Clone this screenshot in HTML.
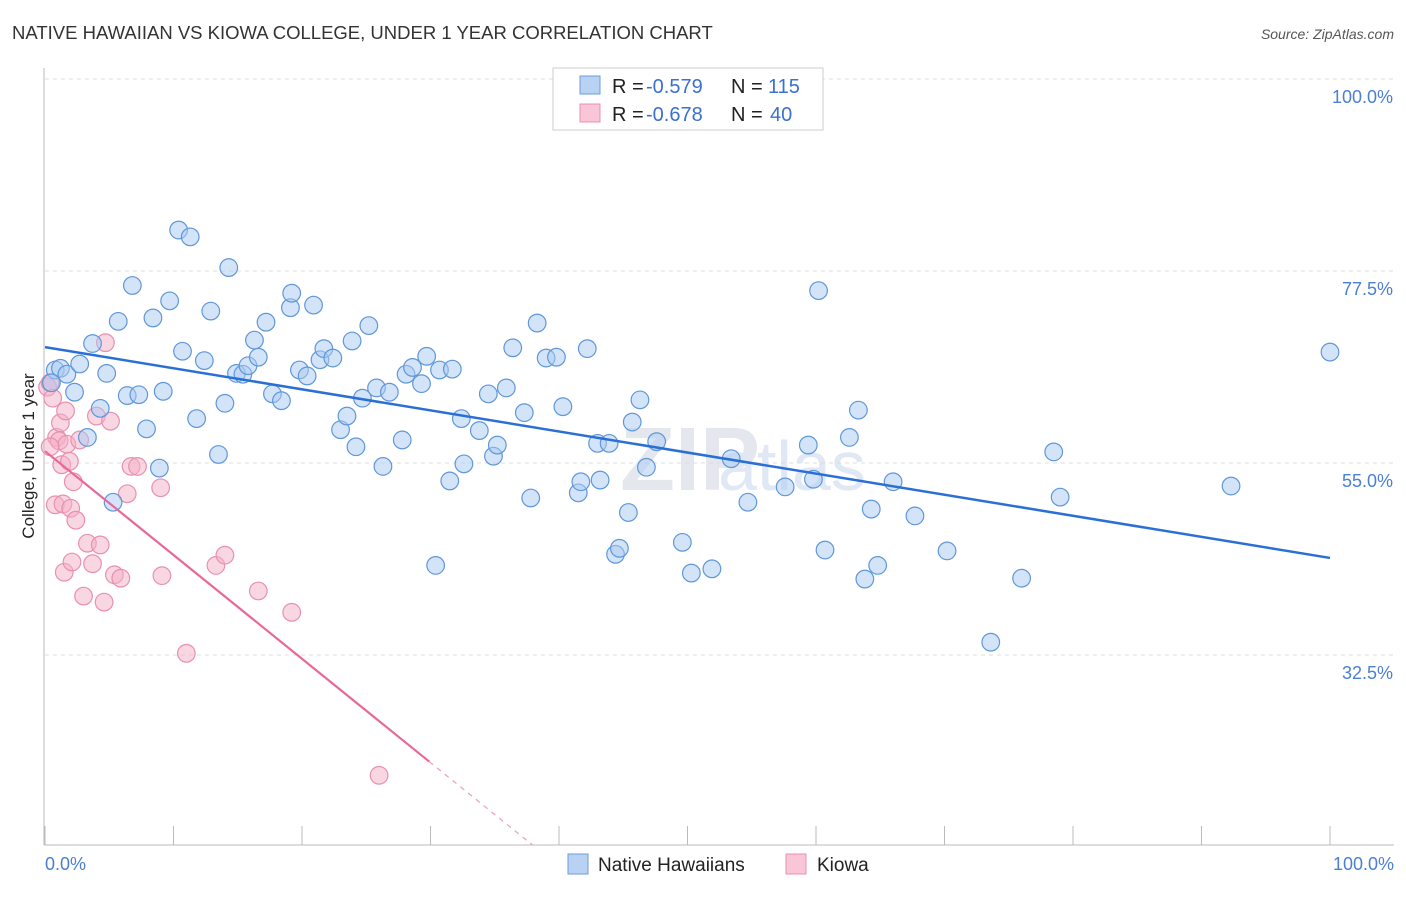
<!DOCTYPE html>
<html><head><meta charset="utf-8"><style>
body{margin:0;background:#fff;font-family:"Liberation Sans",sans-serif;}
svg text{font-family:"Liberation Sans",sans-serif;}
</style></head><body>
<svg id="chart" width="1406" height="892">
<text x="12" y="39" font-size="18.5" fill="#333">NATIVE HAWAIIAN VS KIOWA COLLEGE, UNDER 1 YEAR CORRELATION CHART</text>
<text x="1394" y="39" font-size="14" fill="#555" text-anchor="end" font-style="italic">Source: ZipAtlas.com</text>
<text x="620" y="490" font-size="90" fill="#e4e8ee" font-family="Liberation Serif" font-weight="bold">ZIP</text>
<text x="718" y="490" font-size="70" fill="#dfe8f4">atlas</text>
<g id="grid"></g>
<g id="axes"></g>
<g id="marks"></g>
<g id="lines"></g>
<text transform="translate(34,456) rotate(-90)" font-size="17" fill="#222" text-anchor="middle">College, Under 1 year</text>
<text x="45" y="870" font-size="18" fill="#4a7fd4">0.0%</text>
<text x="1394" y="870" font-size="18" fill="#4a7fd4" text-anchor="end">100.0%</text>
<g>
<rect x="553" y="68" width="270" height="62" fill="#fff" stroke="#ccc"/>
<rect x="580" y="76" width="20" height="18" fill="#b9d2f3" stroke="#6a9fd8"/>
<rect x="580" y="104" width="20" height="18" fill="#f8c6d6" stroke="#e890b0"/>
<text x="612" y="93" font-size="20" fill="#222">R =</text>
<text x="646" y="93" font-size="20" fill="#3a70d0">-0.579</text>
<text x="731" y="93" font-size="20" fill="#222">N =</text>
<text x="768" y="93" font-size="20" fill="#3a70d0">115</text>
<text x="612" y="121" font-size="20" fill="#222">R =</text>
<text x="646" y="121" font-size="20" fill="#3a70d0">-0.678</text>
<text x="731" y="121" font-size="20" fill="#222">N =</text>
<text x="770" y="121" font-size="20" fill="#3a70d0">40</text>
</g>
<g>
<rect x="568" y="854" width="20" height="20" fill="#b9d2f3" stroke="#6a9fd8"/>
<text x="598" y="871" font-size="19" fill="#222">Native Hawaiians</text>
<rect x="786" y="854" width="20" height="20" fill="#f8c6d6" stroke="#e890b0"/>
<text x="817" y="871" font-size="19" fill="#222">Kiowa</text>
</g>
</svg>
<script>
const yTicks=[100,77.5,55,32.5];
const yTickLabels=["100.0%","77.5%","55.0%","32.5%"];
const xTicks=[0,10,20,30,40,50,60,70,80,90,100];
const blueX=[0.8,1.2,1.7,0.5,2.3,2.7,3.7,3.3,4.3,4.8,5.3,5.7,6.4,6.8,7.3,7.9,8.4,8.9,9.2,9.7,10.4,10.7,11.3,11.8,12.4,12.9,13.5,14.0,14.3,14.9,15.4,15.8,16.3,16.6,17.2,17.7,18.4,19.1,19.2,19.8,20.4,20.9,21.4,21.7,22.4,23.0,23.5,23.9,24.2,24.7,25.2,25.8,26.3,26.8,27.8,28.1,28.6,29.3,29.7,30.4,30.7,31.5,31.7,32.4,32.6,33.8,34.5,34.9,35.2,35.9,36.4,37.3,37.8,38.3,39.0,39.8,40.3,41.5,41.7,42.2,43.0,43.2,43.9,44.4,44.7,45.4,45.7,46.3,46.8,47.6,49.6,50.3,51.9,53.4,54.7,57.6,59.4,59.8,60.2,60.7,62.6,63.3,63.8,64.3,64.8,66.0,67.7,70.2,73.6,76.0,78.5,79.0,92.3,100.0];
const blueY=[65.9,66.1,65.4,64.4,63.3,66.6,69.0,58.0,61.4,65.5,50.4,71.6,62.9,75.8,63.0,59.0,72.0,54.4,63.4,74.0,82.3,68.1,81.5,60.2,67.0,72.8,56.0,62.0,77.9,65.5,65.4,66.4,69.4,67.4,71.5,63.1,62.3,73.2,74.9,65.9,65.2,73.5,67.1,68.4,67.3,58.9,60.5,69.3,56.9,62.6,71.1,63.8,54.6,63.3,57.7,65.4,66.2,64.3,67.5,43.0,65.9,52.9,66.0,60.2,54.9,58.8,63.1,55.8,57.1,63.8,68.5,60.9,50.9,71.4,67.3,67.4,61.6,51.5,52.8,68.4,57.3,53.0,57.3,44.3,45.0,49.2,59.8,62.4,54.5,57.5,45.7,42.1,42.6,55.5,50.4,52.2,57.1,53.1,75.2,44.8,58.0,61.2,41.4,49.6,43.0,52.8,48.8,44.7,34.0,41.5,56.3,51.0,52.3,68.0];
const pinkX=[0.2,0.4,0.6,0.8,0.9,1.1,1.2,1.3,1.4,1.5,1.6,1.7,1.9,2.0,2.1,2.2,2.4,2.7,3.0,3.3,3.7,4.0,4.3,4.6,4.7,5.1,5.4,5.9,6.4,6.7,7.2,9.0,9.1,11.0,13.3,14.0,16.6,19.2,26.0,0.4];
const pinkY=[63.9,64.4,62.6,50.1,58.0,57.6,59.7,54.8,50.2,42.2,61.1,57.2,55.2,49.7,43.4,52.8,48.3,57.7,39.4,45.6,43.2,60.5,45.4,38.7,69.1,59.9,41.9,41.5,51.4,54.6,54.6,52.1,41.8,32.7,43.0,44.2,40.0,37.5,18.4,56.9];
const NS="http://www.w3.org/2000/svg";
const X0=45,X1=1330,YB=845;
function sx(v){return X0+(v/100)*(X1-X0);}
function sy(v){return 79+(100-v)/22.5*192;}
function mk(t,a,p){const e=document.createElementNS(NS,t);for(const k in a)e.setAttribute(k,a[k]);p.appendChild(e);return e;}
const grid=document.getElementById('grid'),axes=document.getElementById('axes'),marks=document.getElementById('marks'),lines=document.getElementById('lines');
yTicks.forEach((v,i)=>{
 const l=mk('line',{x1:45,x2:1394,y1:sy(v),y2:sy(v),stroke:'#ddd','stroke-dasharray':'4,4'},grid);
 
 
 const t=mk('text',{x:1393,y:sy(v)+24,'font-size':18,fill:'#4a7fd4','text-anchor':'end'},grid);
 t.textContent=yTickLabels[i];
 
 
});
const ya=mk('line',{x1:44,x2:44,y1:68,y2:YB,stroke:'#bbb'},axes);


const xa=mk('line',{x1:44,x2:1394,y1:YB,y2:YB,stroke:'#bbb'},axes);


xTicks.forEach(v=>{
 const t=mk('line',{x1:sx(v),x2:sx(v),y1:826,y2:YB,stroke:'#bbb'},axes);
 
 
});
function pts(xs,ys,fill,stroke,name){
 xs.forEach((x,i)=>{
  const c=mk('circle',{cx:sx(x),cy:sy(ys[i]),r:8.8,fill:fill,'fill-opacity':0.5,stroke:stroke,'stroke-width':1.2},marks);
  
  
 });
}
pts(pinkX,pinkY,'#f4b0c6','#e890b0','kiowa-point');
pts(blueX,blueY,'#a9c9f1','#5f97d9','native-hawaiian-point');
function fit(xs,ys){const n=xs.length;let mx=0,my=0;xs.forEach((x,i)=>{mx+=x;my+=ys[i];});mx/=n;my/=n;let a=0,b=0;xs.forEach((x,i)=>{a+=(x-mx)*(ys[i]-my);b+=(x-mx)*(x-mx);});const s=a/b;return [my-s*mx,s];}
const bf=fit(blueX,blueY);
const bl=mk('line',{x1:sx(0),y1:sy(bf[0]),x2:sx(100),y2:sy(bf[0]+bf[1]*100),stroke:'#2a6fd6','stroke-width':2.5},lines);


const pf=fit(pinkX,pinkY);
const pxMax=Math.max(...pinkX)*1.15;
const pl=mk('line',{x1:sx(0),y1:sy(pf[0]),x2:sx(pxMax),y2:sy(pf[0]+pf[1]*pxMax),stroke:'#e8689a','stroke-width':2.2},lines);


const yBot=100-(YB-79)/192*22.5;
const xEnd=(yBot-pf[0])/pf[1];
const pd=mk('line',{x1:sx(pxMax),y1:sy(pf[0]+pf[1]*pxMax),x2:sx(xEnd),y2:YB,stroke:'#e8a0b8','stroke-width':1.2,'stroke-dasharray':'5,5'},lines);


</script>
</body></html>
